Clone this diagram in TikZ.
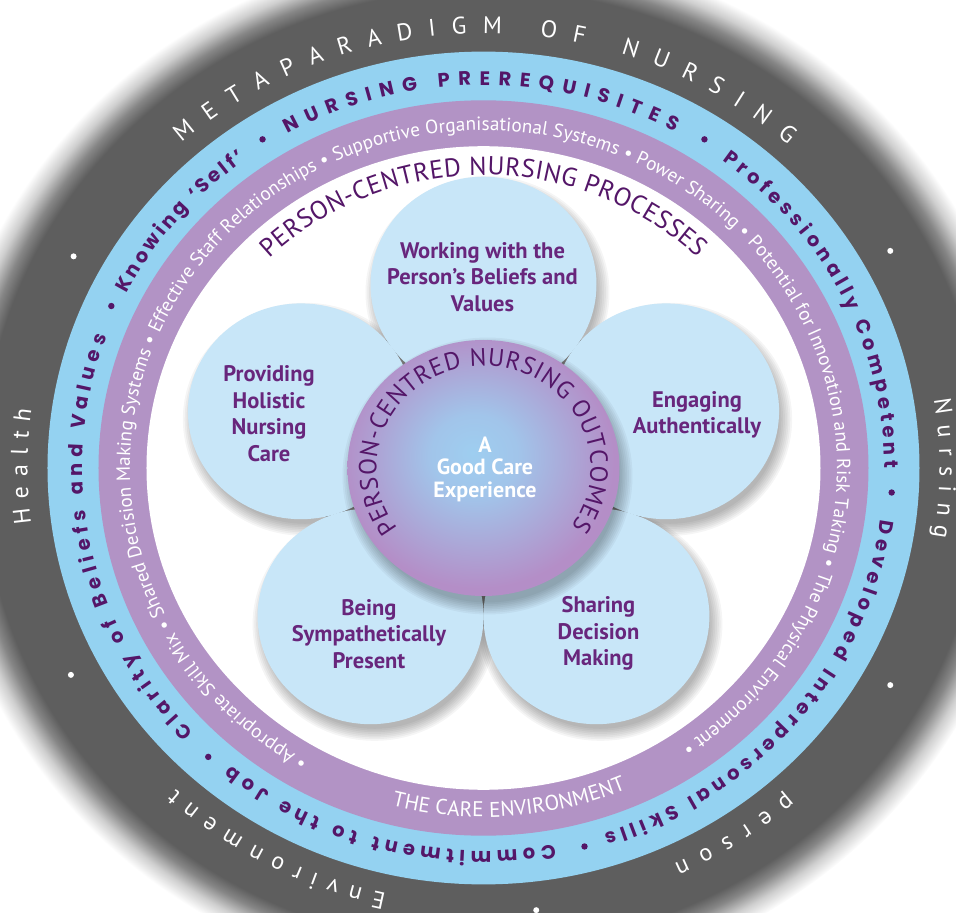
\documentclass[tikz,border=0pt]{standalone}
\usepackage{fontspec}
\setmainfont{PT Sans}
\newfontfamily\roundfont{Poppins}
\usetikzlibrary{decorations.text}

\definecolor{ringgray}{RGB}{94,94,94}
\definecolor{ringblue}{RGB}{148,210,241}
\definecolor{ringpurple}{RGB}{178,147,197}
\definecolor{petalblue}{RGB}{200,230,248}
\definecolor{hubin}{RGB}{158,206,240}
\definecolor{hubout}{RGB}{180,142,199}
\definecolor{deeppurple}{RGB}{84,22,104}
\definecolor{petaltext}{RGB}{104,38,124}

% dark outer band that fades out to white
\pgfdeclareradialshading{outerfade}{\pgfpointorigin}{%
  color(0bp)=(ringgray); color(23bp)=(ringgray);
  color(23.6bp)=(ringgray!75!white); color(24.3bp)=(ringgray!30!white);
  color(25bp)=(white); color(50bp)=(white)}
% central disc: light blue core, lilac rim
\pgfdeclareradialshading{hubshade}{\pgfpoint{-2bp}{3bp}}{%
  color(0bp)=(hubin); color(8bp)=(hubin!85!hubout);
  color(25bp)=(hubout); color(50bp)=(hubout)}

% text set along a clockwise/anticlockwise elliptic arc
\newcommand\ringtext[5]{% start angle, end angle, x radius, format, text
  \pgfmathsetmacro\ringry{0.955*#3}%
  \path[decorate, decoration={text along path, text align={fit to path}, text={|#4|#5}}]
    (#1:#3 and \ringry) arc[start angle=#1, end angle=#2, x radius=#3, y radius=\ringry];}
% separator dot on a ring
\newcommand\ringdot[4]{% angle, x radius, radius of dot, colour
  \pgfmathsetmacro\ringry{0.955*#2}%
  \fill[#4] (#1:#2 and \ringry) circle[radius=#3];}
% soft drop shadow under a disc
\newcommand\softshadow[3]{% centre x, centre y, x radius
  \foreach \s in {0,...,7}{%
    \fill[black, opacity=0.04] (#1+4,#2-8)
      ellipse[x radius={#3+9-1.8*\s}, y radius={0.955*(#3+9-1.8*\s)}];}}

\tikzset{
  petaltxt/.style={font=\bfseries\fontsize{22.5}{26.5}\selectfont, text=petaltext, align=center, inner sep=0pt},
  hubtxt/.style={font=\bfseries\fontsize{22}{22.5}\selectfont, text=white, align=center, inner sep=0pt},
  petal/.style={fill=petalblue},
  crevice/.style={fill=ringgray!85!white},
}

\def\fmtgray{\fontsize{24}{28}\selectfont\color{white}}
\def\fmtblue{\roundfont\bfseries\fontsize{19.5}{24}\selectfont\color{deeppurple}}
\def\fmtpurple{\fontsize{19.2}{22}\selectfont\color{white}}
\def\fmttitle{\fontsize{25.8}{29}\selectfont\color{deeppurple}}

\begin{document}
\begin{tikzpicture}[x=1pt,y=1pt]
\useasboundingbox (-483.5,-445) rectangle (472.5,468);
\clip (-483.5,-445) rectangle (472.5,468);

% rings
\shade[shading=outerfade] (0,0) ellipse[x radius=545, y radius=520.5];
\fill[ringblue] (0,0) ellipse[x radius=436, y radius=416.4];
\fill[ringpurple] (0,0) ellipse[x radius=385, y radius=367.7];
\fill[white] (0,0) ellipse[x radius=337, y radius=321.8];

% metaparadigm band
\ringtext{131.6}{48}{455}{\fmtgray}{METAPARADIGM OF NURSING}
\ringtext{9}{-9.2}{456}{\fmtgray}{Nursing}
\ringtext{-48.3}{-65.3}{456}{\fmtgray}{person}
\ringtext{-102.3}{-132.5}{456}{\fmtgray}{Environment}
\ringtext{187.3}{172.3}{456}{\fmtgray}{Health}
\foreach \a in {151.6,29.2,-29.2,-83.5,207.7}{\ringdot{\a}{466}{3}{white}}

% prerequisites band
\ringtext{119.2}{61.5}{401}{\fmtblue}{NURSING PREREQUISITES}
\ringtext{53.4}{0}{401}{\fmtblue}{Professionally Competent}
\ringtext{-7.7}{-72.5}{401}{\fmtblue}{Developed Interpersonal Skills}
\ringtext{-79.8}{-129}{401}{\fmtblue}{Commitment to the Job}
\ringtext{-136.3}{-200}{401}{\fmtblue}{Clarity of Beliefs and Values}
\ringtext{152.9}{126.5}{401}{\fmtblue}{Knowing ‘Self’}
\foreach \a in {122.7,57.3,-3.6,-75.7,-132.3,155.5}{\ringdot{\a}{409}{3.2}{deeppurple}}

% care environment band
\ringtext{240.2}{-55.8}{353.5}{\fmtpurple}{• Appropriate Skill Mix • Shared Decision Making Systems • Effective Staff Relationships • Supportive Organisational Systems • Power Sharing • Potential for Innovation and Risk Taking • The Physical Environment •}
\ringtext{-104.5}{-67}{365.5}{\fontsize{21.3}{24}\selectfont\color{white}}{THE CARE ENVIRONMENT}

% processes title
\ringtext{134.3}{45.9}{307}{\fmttitle}{PERSON-CENTRED NURSING PROCESSES}

% petals, with dark crevices where neighbouring petals meet
\softshadow{0}{183.4}{113}
\softshadow{-182.6}{56.7}{113}
\softshadow{182.6}{56.7}{113}
\softshadow{-112.9}{-148.3}{113}
\softshadow{112.9}{-148.3}{113}
\foreach \a in {54,126,198,270,342}{\fill[crevice] (\a:150 and 143.3) ellipse[x radius=16, y radius=15.3];}
\fill[petal] (0,183.4) ellipse[x radius=113, y radius=107.9];
\fill[petal] (-182.6,56.7) ellipse[x radius=113, y radius=107.9];
\fill[petal] (182.6,56.7) ellipse[x radius=113, y radius=107.9];
\fill[petal] (-112.9,-148.3) ellipse[x radius=113, y radius=107.9];
\fill[petal] (112.9,-148.3) ellipse[x radius=113, y radius=107.9];

% central disc
\softshadow{0}{0}{136}
\shade[shading=hubshade] (0,0) ellipse[x radius=136, y radius=128];
\ringtext{216.5}{-35}{107}{\fontsize{24.8}{28}\selectfont\color{deeppurple}}{PERSON-CENTRED NURSING OUTCOMES}

% labels
\node[petaltxt] (beliefs) at (-1,191.3) {Working with the\\Person’s Beliefs and\\Values};
\node[petaltxt] (holistic) at (-214.5,54.5) {Providing\\Holistic\\Nursing\\Care};
\node[petaltxt] (engaging) at (213.5,53) {Engaging\\Authentically};
\node[petaltxt] (present) at (-114.5,-165.7) {Being\\Sympathetically\\Present};
\node[petaltxt] (sharing) at (115,-165.7) {Sharing\\Decision\\Making};
\node[hubtxt] (outcome) at (1.5,-1.3) {A\\Good Care\\Experience};
\end{tikzpicture}
\end{document}
